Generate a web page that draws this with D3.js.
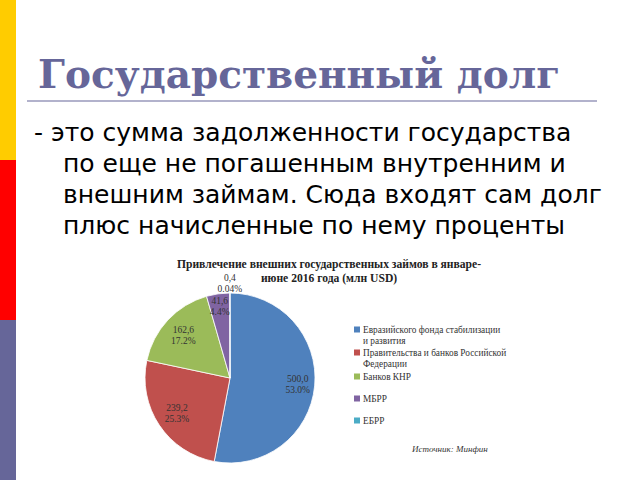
<!DOCTYPE html>
<html>
<head>
<meta charset="utf-8">
<script src="https://cdn.jsdelivr.net/npm/d3@7"></script>
<style>
  body { margin: 0; background: #fff; }
  svg { display: block; }
</style>
</head>
<body>
<div id="chart"></div>
<script>
// slide text
var title = "Государственный долг";
var bodyLines = [
  "- это сумма задолженности государства",
  "по еще не погашенным внутренним и",
  "внешним займам. Сюда входят сам долг",
  "плюс начисленные по нему проценты"
];

// chart data
var chartTitle = ["Привлечение внешних государственных займов в январе-",
                  "июне 2016 года (млн USD)"];
var categories = [
  ["Евразийского фонда стабилизации", "и развития"],
  ["Правительства и банков Российской", "Федерации"],
  ["Банков КНР"],
  ["МБРР"],
  ["ЕБРР"]
];
var values = [500.0, 239.2, 162.6, 41.6, 0.4];
var valueLabels = ["500,0", "239,2", "162,6", "41,6", "0,4"];
var pctLabels = ["53.0%", "25.3%", "17.2%", "4.4%", "0.04%"];
var colors = ["#4f81bd", "#c0504d", "#9bbb59", "#8064a2", "#4bacc6"];
var source = "Источник: Минфин";

var w = 640, h = 480;
var svg = d3.select("#chart").append("svg")
  .attr("width", w).attr("height", h);

// left colour strip
var strip = [["#ffcc00", 0, 160], ["#ff0000", 160, 320], ["#666699", 320, 480]];
svg.selectAll("rect.strip").data(strip).enter().append("rect")
  .attr("class", "strip")
  .attr("x", 0).attr("width", 16)
  .attr("y", function(d) { return d[1]; })
  .attr("height", function(d) { return d[2] - d[1]; })
  .attr("fill", function(d) { return d[0]; });

svg.append("text")
  .attr("x", 38).attr("y", 88)
  .attr("font-family", "DejaVu Serif, serif")
  .attr("font-weight", "bold")
  .attr("font-size", "39px")
  .attr("fill", "#666699")
  .text(title);

svg.append("line")
  .attr("x1", 27).attr("x2", 597)
  .attr("y1", 101).attr("y2", 101)
  .attr("stroke", "#9999bb").attr("stroke-width", 1.5);

svg.selectAll("text.body").data(bodyLines).enter().append("text")
  .attr("class", "body")
  .attr("x", function(d, i) { return i === 0 ? 34 : 63; })
  .attr("y", function(d, i) { return 141 + i * 31; })
  .attr("font-family", "DejaVu Sans, sans-serif")
  .attr("font-size", "25px")
  .attr("fill", "#000")
  .text(function(d) { return d; });

// chart title
svg.selectAll("text.ctitle").data(chartTitle).enter().append("text")
  .attr("class", "ctitle")
  .attr("x", 329)
  .attr("y", function(d, i) { return 268 + i * 13.5; })
  .attr("text-anchor", "middle")
  .attr("font-family", "Liberation Serif, serif")
  .attr("font-weight", "bold")
  .attr("font-size", "11.6px")
  .attr("fill", "#222")
  .text(function(d) { return d; });

// pie
var cx = 230, cy = 378, r = 85;
var pie = d3.pie().sort(null).value(function(d) { return d; });
var arc = d3.arc().innerRadius(0).outerRadius(r);
var arcs = pie(values);

var g = svg.append("g").attr("transform", "translate(" + cx + "," + cy + ")");
g.selectAll("path").data(arcs).enter().append("path")
  .attr("d", arc)
  .attr("fill", function(d, i) { return colors[i]; })
  .attr("stroke", "#fff")
  .attr("stroke-width", 0.8);

// data labels, distance from centre per slice (tiny slice sits outside)
var labelPos = [0.8, 0.75, 0.75, 0.86, 1.12];
var lab = g.selectAll("g.lab").data(arcs).enter().append("g")
  .attr("class", "lab")
  .attr("transform", function(d, i) {
    var rr = r * labelPos[i];
    var p = d3.arc().innerRadius(rr).outerRadius(rr).centroid(d);
    return "translate(" + p[0] + "," + p[1] + ")";
  });
lab.append("text")
  .attr("y", -2)
  .attr("text-anchor", "middle")
  .attr("font-family", "Liberation Serif, serif")
  .attr("font-size", "9.5px")
  .attr("fill", "#333")
  .text(function(d, i) { return valueLabels[i]; });
lab.append("text")
  .attr("y", 9)
  .attr("text-anchor", "middle")
  .attr("font-family", "Liberation Serif, serif")
  .attr("font-size", "9.5px")
  .attr("fill", "#333")
  .text(function(d, i) { return pctLabels[i]; });

// legend
var legY = [330, 353, 377, 399, 421];
var leg = svg.selectAll("g.leg").data(categories).enter().append("g")
  .attr("class", "leg")
  .attr("transform", function(d, i) { return "translate(354," + legY[i] + ")"; });
leg.append("rect")
  .attr("x", 0).attr("y", -3.5)
  .attr("width", 6).attr("height", 6)
  .attr("fill", function(d, i) { return colors[i]; });
leg.each(function(d) {
  d3.select(this).selectAll("text").data(d).enter().append("text")
    .attr("x", 9)
    .attr("y", function(t, j) { return 3 + j * 11; })
    .attr("font-family", "Liberation Serif, serif")
    .attr("font-size", "9.3px")
    .attr("fill", "#333")
    .text(function(t) { return t; });
});

svg.append("text")
  .attr("x", 412).attr("y", 452)
  .attr("font-family", "Liberation Serif, serif")
  .attr("font-style", "italic")
  .attr("font-size", "9px")
  .attr("fill", "#333")
  .text(source);
</script>
</body>
</html>
